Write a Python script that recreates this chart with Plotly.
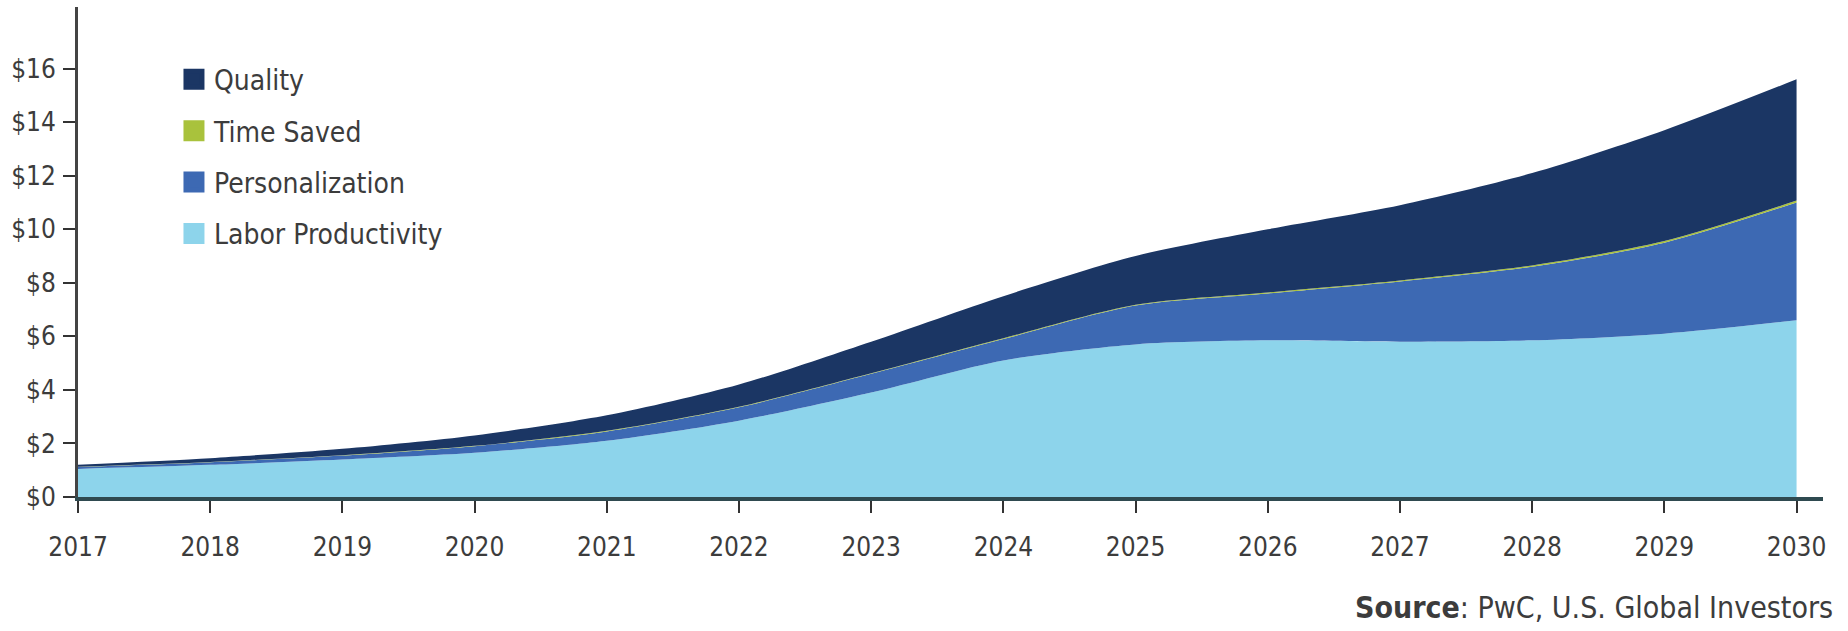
import plotly.graph_objects as go

years = [2017, 2018, 2019, 2020, 2021, 2022, 2023, 2024, 2025, 2026, 2027, 2028, 2029, 2030]
labor_productivity = [1.05, 1.2, 1.4, 1.65, 2.1, 2.85, 3.9, 5.1, 5.7, 5.85, 5.8, 5.85, 6.1, 6.6]
personalization = [0.07, 0.1, 0.15, 0.25, 0.35, 0.5, 0.7, 0.8, 1.45, 1.75, 2.25, 2.75, 3.4, 4.4]
time_saved = [0.01, 0.01, 0.01, 0.01, 0.02, 0.02, 0.02, 0.03, 0.03, 0.04, 0.04, 0.05, 0.06, 0.07]
quality = [0.07, 0.14, 0.24, 0.39, 0.58, 0.83, 1.18, 1.57, 1.82, 2.36, 2.81, 3.45, 4.14, 4.53]

y_ticks = [0, 2, 4, 6, 8, 10, 12, 14, 16]

series = [
    ("Labor Productivity", labor_productivity, "#8dd4eb"),
    ("Personalization", personalization, "#3d69b3"),
    ("Time Saved", time_saved, "#a9c23c"),
    ("Quality", quality, "#1b3664"),
]
legend_order = ["Quality", "Time Saved", "Personalization", "Labor Productivity"]

FONT = "Liberation Sans Narrow, DejaVu Sans Condensed, Arial Narrow, sans-serif"
TXT = "#3c3c3c"

fig = go.Figure()
for name, vals, color in series:
    fig.add_trace(go.Scatter(
        x=years, y=vals, name=name, stackgroup="one", mode="lines",
        line=dict(width=0, shape="spline", smoothing=0.8, color=color),
        fillcolor=color, showlegend=False, hoverinfo="x+y+name",
    ))

color_of = {n: c for n, _, c in series}
for rank, name in enumerate(legend_order):
    fig.add_trace(go.Scatter(
        x=[None], y=[None], name=name, mode="markers",
        marker=dict(symbol="square", size=16, color=color_of[name],
                    line=dict(width=5, color=color_of[name])),
        legendgroup=name, legendrank=rank + 1, showlegend=True,
    ))

fig.update_layout(
    width=1848, height=631,
    margin=dict(l=78, r=25, t=7, b=134),
    paper_bgcolor="white", plot_bgcolor="white",
    font=dict(family=FONT, size=26, color=TXT),
    showlegend=True,
    legend=dict(
        x=0.055, y=0.903, xanchor="left", yanchor="top",
        traceorder="grouped", tracegroupgap=12,
        font=dict(family=FONT, size=28, color=TXT),
        bgcolor="rgba(0,0,0,0)", itemwidth=30,
    ),
    xaxis=dict(
        range=[2017, 2030.2], tickvals=years, ticktext=[str(y) for y in years],
        showgrid=False, zeroline=False,
        showline=True, linecolor="#2f4a50", linewidth=4,
        ticks="outside", ticklen=12, tickwidth=2, tickcolor="#333333",
        tickfont=dict(family=FONT, size=26, color=TXT),
        ticklabelstandoff=12,
    ),
    yaxis=dict(
        range=[0, 18.3], tickvals=y_ticks, ticktext=["$" + str(v) for v in y_ticks],
        showgrid=False, zeroline=False,
        showline=True, linecolor="#444444", linewidth=3,
        ticks="outside", ticklen=12, tickwidth=2, tickcolor="#333333",
        tickfont=dict(family=FONT, size=26, color=TXT),
        ticklabelstandoff=2,
    ),
    annotations=[dict(
        text="<b>Source</b>: PwC, U.S. Global Investors",
        xref="paper", yref="paper", x=1.007, y=-0.226,
        xanchor="right", yanchor="middle", showarrow=False,
        font=dict(family=FONT, size=30, color=TXT),
    )],
)

fig.write_html("out.html")
